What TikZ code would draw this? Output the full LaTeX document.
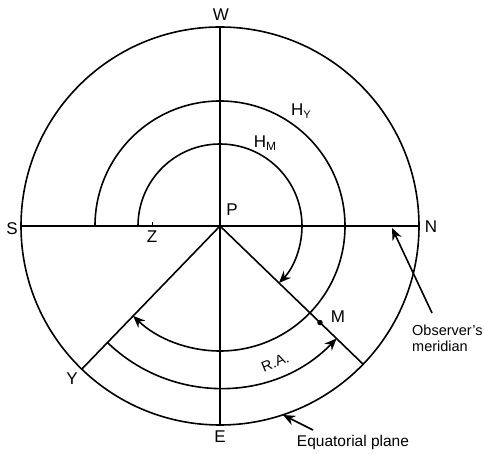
\documentclass[tikz,border=0pt]{standalone}
\usepackage{fontspec}
\setmainfont{Liberation Sans}
\usetikzlibrary{arrows.meta}
\begin{document}
\begin{tikzpicture}[x=1pt,y=1pt,
  ln/.style={line width=1.6pt},
  arr/.style={ln,-{Stealth[length=12pt,width=10pt]}},
  lbl/.style={inner sep=0pt,font=\fontsize{17}{19}\selectfont},
  sm/.style={inner sep=0pt,font=\fontsize{14.5}{16}\selectfont}]
\useasboundingbox (-220,-228) rectangle (264,226);
% named points
\coordinate (P) at (0,0);
\coordinate (Wp) at (90:199);
\coordinate (Ep) at (-90:199);
\coordinate (Sp) at (180:199);
\coordinate (Np) at (0:199);
\coordinate (Mend) at (-44:199);
\coordinate (Yend) at (226:199);
\coordinate (hm0) at (180:82);
\coordinate (hy0) at (180:125);
\coordinate (ra0) at (226:162);
\coordinate (Zt) at (-67,0);
\coordinate (Zt2) at (-67,4);
\coordinate (obsT) at (212,-87);
\coordinate (obsH) at (172,-2);
\coordinate (eqT) at (93,-204);
\coordinate (eqH) at (63,-189);
% circle and lines
\draw[ln] (P) circle[radius=199];
\draw[ln] (Wp) -- (Ep);
\draw[ln] (Sp) -- (Np);
\draw[ln] (P) -- (Mend);
\draw[ln] (P) -- (Yend);
\draw[line width=1pt] (Zt) -- (Zt2);
% arcs
\draw[arr] (hm0) arc[start angle=180, end angle=-44, radius=82];
\draw[arr] (hy0) arc[start angle=180, end angle=-134, radius=125];
\draw[arr] (ra0) arc[start angle=226, end angle=316, radius=162];
% M point
\node[circle,fill,inner sep=0pt,minimum size=5.5pt] (M) at (-44:139) {};
% labels
\node[lbl] (W) at (1,211) {W};
\node[lbl] (S) at (-208,-3) {S};
\node[lbl] (N) at (211,-1) {N};
\node[lbl] (E) at (0,-211) {E};
\node[lbl] (Pl) at (12,16) {P};
\node[lbl] (Zl) at (-68,-11) {Z};
\node[lbl] (Yl) at (-148,-153) {Y};
\node[lbl] (Ml) at (118,-91) {M};
\node[lbl] (HY) at (81,115) {H\raisebox{-0.4ex}{\fontsize{11}{11}\selectfont Y}};
\node[lbl] (HM) at (45,83) {H\raisebox{-0.4ex}{\fontsize{12}{12}\selectfont M}};
\node[sm,rotate=22] (RA) at (-68:147) {R.A.};
\node[sm,align=left,anchor=west] (obs) at (192,-112) {Observer's\\meridian};
\node[sm,font=\fontsize{15.5}{17}\selectfont] (eq) at (133,-216) {Equatorial plane};
% pointer arrows
\draw[arr] (obsT) -- (obsH);
\draw[arr] (eqT) -- (eqH);
\end{tikzpicture}
\end{document}
